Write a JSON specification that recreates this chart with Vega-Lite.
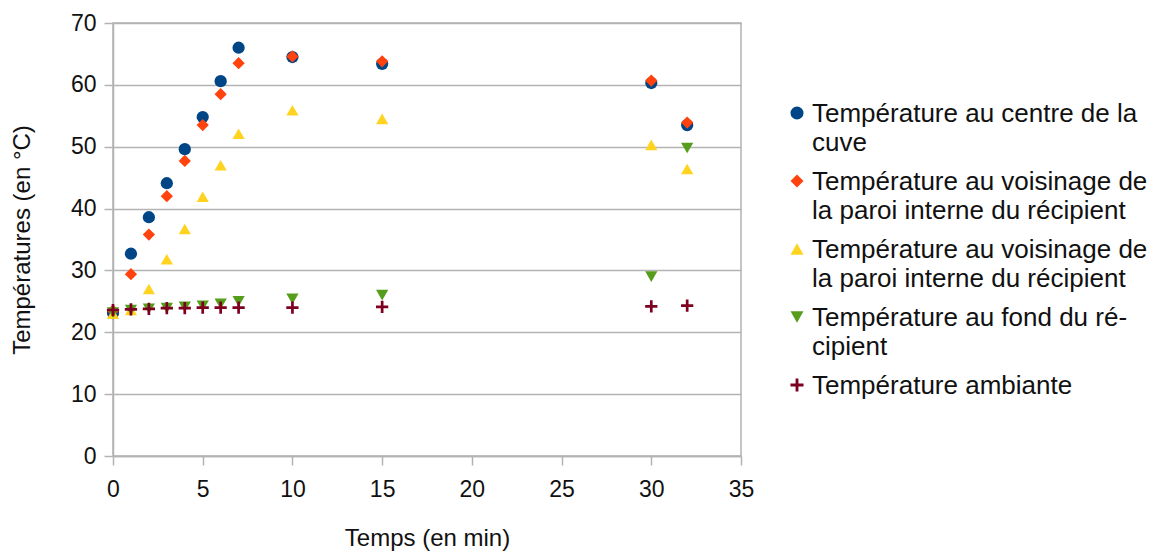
{
  "$schema": "https://vega.github.io/schema/vega-lite/v6.json",
  "autosize": {"type": "none"},
  "padding": {"left": 113, "top": 23, "right": 413, "bottom": 95},
  "width": 628,
  "height": 433,
  "background": "white",
  "config": {
    "font": "Liberation Sans",
    "view": {"stroke": "#b3b3b3", "strokeWidth": 1.5},
    "axis": {
      "labelFont": "Liberation Sans", "labelFontSize": 23, "labelColor": "#111", "labelFlush": false,
      "titleFont": "Liberation Sans", "titleFontSize": 24, "titleFontWeight": "normal", "titleColor": "#111",
      "gridColor": "#b3b3b3", "gridWidth": 1.5, "gridOpacity": 1,
      "domainColor": "#b3b3b3", "domainWidth": 1.5,
      "tickColor": "#b3b3b3", "tickWidth": 1.5, "tickSize": 9
    }
  },
  "data": {"values": [
    {"t": 0, "s": "A", "v": 23.1}, {"t": 1, "s": "A", "v": 32.7}, {"t": 2, "s": "A", "v": 38.6}, {"t": 3, "s": "A", "v": 44.1}, {"t": 4, "s": "A", "v": 49.6}, {"t": 5, "s": "A", "v": 54.8}, {"t": 6, "s": "A", "v": 60.6}, {"t": 7, "s": "A", "v": 66.0}, {"t": 10, "s": "A", "v": 64.5}, {"t": 15, "s": "A", "v": 63.4}, {"t": 30, "s": "A", "v": 60.3}, {"t": 32, "s": "A", "v": 53.5},
    {"t": 0, "s": "B", "v": 23.5}, {"t": 1, "s": "B", "v": 29.4}, {"t": 2, "s": "B", "v": 35.8}, {"t": 3, "s": "B", "v": 42.0}, {"t": 4, "s": "B", "v": 47.7}, {"t": 5, "s": "B", "v": 53.5}, {"t": 6, "s": "B", "v": 58.5}, {"t": 7, "s": "B", "v": 63.5}, {"t": 10, "s": "B", "v": 64.6}, {"t": 15, "s": "B", "v": 63.8}, {"t": 30, "s": "B", "v": 60.7}, {"t": 32, "s": "B", "v": 53.9},
    {"t": 0, "s": "C", "v": 23.0}, {"t": 1, "s": "C", "v": 23.6}, {"t": 2, "s": "C", "v": 27.0}, {"t": 3, "s": "C", "v": 31.8}, {"t": 4, "s": "C", "v": 36.7}, {"t": 5, "s": "C", "v": 41.9}, {"t": 6, "s": "C", "v": 47.0}, {"t": 7, "s": "C", "v": 52.1}, {"t": 10, "s": "C", "v": 55.9}, {"t": 15, "s": "C", "v": 54.5}, {"t": 30, "s": "C", "v": 50.3}, {"t": 32, "s": "C", "v": 46.4},
    {"t": 0, "s": "D", "v": 23.2}, {"t": 1, "s": "D", "v": 23.6}, {"t": 2, "s": "D", "v": 23.8}, {"t": 3, "s": "D", "v": 23.9}, {"t": 4, "s": "D", "v": 24.1}, {"t": 5, "s": "D", "v": 24.3}, {"t": 6, "s": "D", "v": 24.6}, {"t": 7, "s": "D", "v": 25.0}, {"t": 10, "s": "D", "v": 25.4}, {"t": 15, "s": "D", "v": 26.0}, {"t": 30, "s": "D", "v": 29.0}, {"t": 32, "s": "D", "v": 49.8},
    {"t": 0, "s": "E", "v": 23.6}, {"t": 1, "s": "E", "v": 23.7}, {"t": 2, "s": "E", "v": 23.8}, {"t": 3, "s": "E", "v": 23.9}, {"t": 4, "s": "E", "v": 23.9}, {"t": 5, "s": "E", "v": 24.0}, {"t": 6, "s": "E", "v": 24.0}, {"t": 7, "s": "E", "v": 24.0}, {"t": 10, "s": "E", "v": 24.0}, {"t": 15, "s": "E", "v": 24.1}, {"t": 30, "s": "E", "v": 24.2}, {"t": 32, "s": "E", "v": 24.3}
  ]},
  "mark": {"type": "point", "filled": true, "opacity": 1, "size": 150},
  "encoding": {
    "x": {"field": "t", "type": "quantitative", "scale": {"domain": [0, 35], "nice": false}, "axis": {"values": [0, 5, 10, 15, 20, 25, 30, 35], "grid": false, "title": "Temps (en min)", "titlePadding": 25, "labelPadding": 13}},
    "y": {"field": "v", "type": "quantitative", "scale": {"domain": [0, 70], "nice": false}, "axis": {"values": [0, 10, 20, 30, 40, 50, 60, 70], "title": "Températures (en °C)", "titlePadding": 36, "labelPadding": 8}},
    "color": {"field": "s", "type": "nominal", "scale": {"domain": ["A", "B", "C", "D", "E"], "range": ["#004586", "#ff420e", "#ffd320", "#579d1c", "#7e0021"]},
      "legend": {"orient": "none", "legendX": 671, "legendY": 77, "title": null, "labelFontSize": 26, "labelFont": "Liberation Sans", "labelColor": "#111", "labelLimit": 400, "symbolSize": 170, "labelBaseline": "alphabetic", "labelOffset": 2, "rowPadding": 12, "symbolOpacity": 1,
        "encode": {"labels": {"update": {"dy": {"value": 9}, "lineHeight": {"value": 29}}}},
        "labelExpr": "datum.value == 'A' ? ['Température au centre de la', 'cuve'] : datum.value == 'B' ? ['Température au voisinage de', 'la paroi interne du récipient'] : datum.value == 'C' ? ['Température au voisinage de', 'la paroi interne du récipient'] : datum.value == 'D' ? ['Température au fond du ré-', 'cipient'] : 'Température ambiante'"}},
    "shape": {"field": "s", "type": "nominal", "scale": {"domain": ["A", "B", "C", "D", "E"], "range": ["circle", "diamond", "triangle-up", "triangle-down", "M-0.22,-1H0.22V-0.22H1V0.22H0.22V1H-0.22V0.22H-1V-0.22H-0.22Z"]}}
  }
}
